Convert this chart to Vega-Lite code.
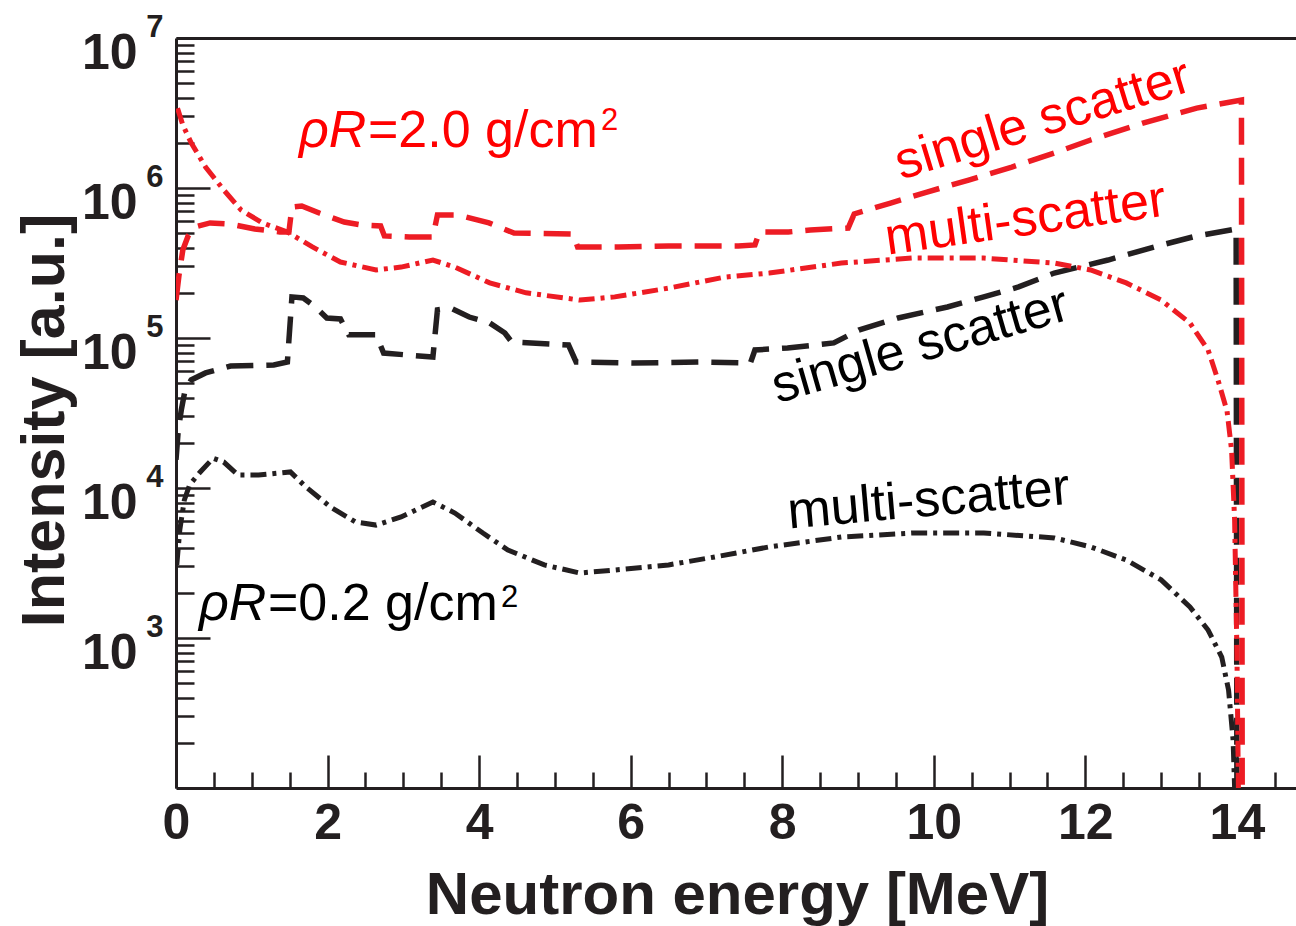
{
  "$schema": "https://vega.github.io/schema/vega-lite/v6.json",
  "width": 1120,
  "height": 750,
  "autosize": {"type": "none"},
  "padding": {"left": 176, "top": 38, "right": 0, "bottom": 138},
  "background": "white",
  "config": {"view": {"stroke": null}, "font": "Liberation Sans"},
  "datasets": {
    "spectra": [
      {"E":0.01,"I":3070,"rhoR":"0.2","type":"multi"},{"E":0.05,"I":5250,"rhoR":"0.2","type":"multi"},{"E":0.11,"I":8320,"rhoR":"0.2","type":"multi"},{"E":0.18,"I":10500,"rhoR":"0.2","type":"multi"},{"E":0.32,"I":12800,"rhoR":"0.2","type":"multi"},{"E":0.49,"I":15800,"rhoR":"0.2","type":"multi"},{"E":0.63,"I":14900,"rhoR":"0.2","type":"multi"},{"E":0.82,"I":12200,"rhoR":"0.2","type":"multi"},{"E":1.09,"I":12200,"rhoR":"0.2","type":"multi"},{"E":1.51,"I":12800,"rhoR":"0.2","type":"multi"},{"E":1.71,"I":10200,"rhoR":"0.2","type":"multi"},{"E":2.04,"I":7460,"rhoR":"0.2","type":"multi"},{"E":2.37,"I":5930,"rhoR":"0.2","type":"multi"},{"E":2.64,"I":5660,"rhoR":"0.2","type":"multi"},{"E":2.97,"I":6410,"rhoR":"0.2","type":"multi"},{"E":3.39,"I":8070,"rhoR":"0.2","type":"multi"},{"E":3.68,"I":6810,"rhoR":"0.2","type":"multi"},{"E":4.05,"I":5010,"rhoR":"0.2","type":"multi"},{"E":4.38,"I":3860,"rhoR":"0.2","type":"multi"},{"E":4.86,"I":3070,"rhoR":"0.2","type":"multi"},{"E":5.33,"I":2710,"rhoR":"0.2","type":"multi"},{"E":5.79,"I":2840,"rhoR":"0.2","type":"multi"},{"E":6.5,"I":3070,"rhoR":"0.2","type":"multi"},{"E":7.11,"I":3470,"rhoR":"0.2","type":"multi"},{"E":7.83,"I":4050,"rhoR":"0.2","type":"multi"},{"E":8.78,"I":4710,"rhoR":"0.2","type":"multi"},{"E":9.71,"I":5010,"rhoR":"0.2","type":"multi"},{"E":10.66,"I":5010,"rhoR":"0.2","type":"multi"},{"E":11.59,"I":4650,"rhoR":"0.2","type":"multi"},{"E":12.07,"I":4050,"rhoR":"0.2","type":"multi"},{"E":12.54,"I":3310,"rhoR":"0.2","type":"multi"},{"E":13.0,"I":2440,"rhoR":"0.2","type":"multi"},{"E":13.38,"I":1610,"rhoR":"0.2","type":"multi"},{"E":13.62,"I":1130,"rhoR":"0.2","type":"multi"},{"E":13.8,"I":746,"rhoR":"0.2","type":"multi"},{"E":13.89,"I":450,"rhoR":"0.2","type":"multi"},{"E":13.95,"I":209,"rhoR":"0.2","type":"multi"},{"E":13.97,"I":100,"rhoR":"0.2","type":"multi"},
      {"E":0.0,"I":15400,"rhoR":"0.2","type":"single"},{"E":0.03,"I":24400,"rhoR":"0.2","type":"single"},{"E":0.07,"I":33100,"rhoR":"0.2","type":"single"},{"E":0.12,"I":45000,"rhoR":"0.2","type":"single"},{"E":0.2,"I":52500,"rhoR":"0.2","type":"single"},{"E":0.39,"I":58500,"rhoR":"0.2","type":"single"},{"E":0.72,"I":65000,"rhoR":"0.2","type":"single"},{"E":1.29,"I":66100,"rhoR":"0.2","type":"single"},{"E":1.47,"I":69200,"rhoR":"0.2","type":"single"},{"E":1.53,"I":188000,"rhoR":"0.2","type":"single"},{"E":1.68,"I":185000,"rhoR":"0.2","type":"single"},{"E":1.84,"I":161000,"rhoR":"0.2","type":"single"},{"E":1.99,"I":136000,"rhoR":"0.2","type":"single"},{"E":2.17,"I":134000,"rhoR":"0.2","type":"single"},{"E":2.28,"I":105000,"rhoR":"0.2","type":"single"},{"E":2.64,"I":105000,"rhoR":"0.2","type":"single"},{"E":2.74,"I":79400,"rhoR":"0.2","type":"single"},{"E":3.39,"I":74600,"rhoR":"0.2","type":"single"},{"E":3.45,"I":154000,"rhoR":"0.2","type":"single"},{"E":3.63,"I":158000,"rhoR":"0.2","type":"single"},{"E":3.87,"I":138000,"rhoR":"0.2","type":"single"},{"E":4.14,"I":126000,"rhoR":"0.2","type":"single"},{"E":4.34,"I":108000,"rhoR":"0.2","type":"single"},{"E":4.43,"I":94000,"rhoR":"0.2","type":"single"},{"E":5.18,"I":89800,"rhoR":"0.2","type":"single"},{"E":5.28,"I":69200,"rhoR":"0.2","type":"single"},{"E":6.03,"I":68100,"rhoR":"0.2","type":"single"},{"E":6.97,"I":69200,"rhoR":"0.2","type":"single"},{"E":7.58,"I":68100,"rhoR":"0.2","type":"single"},{"E":7.64,"I":83200,"rhoR":"0.2","type":"single"},{"E":8.07,"I":85800,"rhoR":"0.2","type":"single"},{"E":8.68,"I":92700,"rhoR":"0.2","type":"single"},{"E":9.01,"I":113000,"rhoR":"0.2","type":"single"},{"E":9.53,"I":136000,"rhoR":"0.2","type":"single"},{"E":10.18,"I":161000,"rhoR":"0.2","type":"single"},{"E":10.66,"I":188000,"rhoR":"0.2","type":"single"},{"E":11.12,"I":219000,"rhoR":"0.2","type":"single"},{"E":11.59,"I":271000,"rhoR":"0.2","type":"single"},{"E":12.3,"I":331000,"rhoR":"0.2","type":"single"},{"E":12.95,"I":410000,"rhoR":"0.2","type":"single"},{"E":13.47,"I":479000,"rhoR":"0.2","type":"single"},{"E":13.99,"I":533000,"rhoR":"0.2","type":"single"},{"E":14.0,"I":100,"rhoR":"0.2","type":"single"},
      {"E":0.02,"I":3400000,"rhoR":"2.0","type":"multi"},{"E":0.09,"I":2630000,"rhoR":"2.0","type":"multi"},{"E":0.2,"I":2000000,"rhoR":"2.0","type":"multi"},{"E":0.39,"I":1380000,"rhoR":"2.0","type":"multi"},{"E":0.63,"I":970000,"rhoR":"2.0","type":"multi"},{"E":0.86,"I":713000,"rhoR":"2.0","type":"multi"},{"E":1.14,"I":585000,"rhoR":"2.0","type":"multi"},{"E":1.47,"I":509000,"rhoR":"2.0","type":"multi"},{"E":1.8,"I":405000,"rhoR":"2.0","type":"multi"},{"E":2.17,"I":321000,"rhoR":"2.0","type":"multi"},{"E":2.64,"I":284000,"rhoR":"2.0","type":"multi"},{"E":2.97,"I":297000,"rhoR":"2.0","type":"multi"},{"E":3.39,"I":331000,"rhoR":"2.0","type":"multi"},{"E":3.68,"I":297000,"rhoR":"2.0","type":"multi"},{"E":4.14,"I":233000,"rhoR":"2.0","type":"multi"},{"E":4.62,"I":200000,"rhoR":"2.0","type":"multi"},{"E":5.33,"I":179000,"rhoR":"2.0","type":"multi"},{"E":5.79,"I":188000,"rhoR":"2.0","type":"multi"},{"E":6.5,"I":215000,"rhoR":"2.0","type":"multi"},{"E":7.25,"I":255000,"rhoR":"2.0","type":"multi"},{"E":7.83,"I":271000,"rhoR":"2.0","type":"multi"},{"E":8.78,"I":316000,"rhoR":"2.0","type":"multi"},{"E":9.71,"I":341000,"rhoR":"2.0","type":"multi"},{"E":10.66,"I":341000,"rhoR":"2.0","type":"multi"},{"E":11.59,"I":316000,"rhoR":"2.0","type":"multi"},{"E":12.07,"I":284000,"rhoR":"2.0","type":"multi"},{"E":12.54,"I":233000,"rhoR":"2.0","type":"multi"},{"E":13.0,"I":179000,"rhoR":"2.0","type":"multi"},{"E":13.38,"I":126000,"rhoR":"2.0","type":"multi"},{"E":13.62,"I":83200,"rhoR":"2.0","type":"multi"},{"E":13.75,"I":52500,"rhoR":"2.0","type":"multi"},{"E":13.87,"I":32600,"rhoR":"2.0","type":"multi"},{"E":13.93,"I":17900,"rhoR":"2.0","type":"multi"},{"E":13.97,"I":6120,"rhoR":"2.0","type":"multi"},{"E":14.0,"I":832,"rhoR":"2.0","type":"multi"},{"E":14.02,"I":100,"rhoR":"2.0","type":"multi"},
      {"E":0.0,"I":179000,"rhoR":"2.0","type":"single"},{"E":0.04,"I":263000,"rhoR":"2.0","type":"single"},{"E":0.09,"I":386000,"rhoR":"2.0","type":"single"},{"E":0.16,"I":479000,"rhoR":"2.0","type":"single"},{"E":0.25,"I":550000,"rhoR":"2.0","type":"single"},{"E":0.45,"I":585000,"rhoR":"2.0","type":"single"},{"E":0.71,"I":575000,"rhoR":"2.0","type":"single"},{"E":1.04,"I":533000,"rhoR":"2.0","type":"single"},{"E":1.37,"I":509000,"rhoR":"2.0","type":"single"},{"E":1.49,"I":509000,"rhoR":"2.0","type":"single"},{"E":1.53,"I":746000,"rhoR":"2.0","type":"single"},{"E":1.66,"I":759000,"rhoR":"2.0","type":"single"},{"E":1.89,"I":681000,"rhoR":"2.0","type":"single"},{"E":2.22,"I":593000,"rhoR":"2.0","type":"single"},{"E":2.46,"I":566000,"rhoR":"2.0","type":"single"},{"E":2.7,"I":558000,"rhoR":"2.0","type":"single"},{"E":2.75,"I":479000,"rhoR":"2.0","type":"single"},{"E":3.08,"I":471000,"rhoR":"2.0","type":"single"},{"E":3.39,"I":471000,"rhoR":"2.0","type":"single"},{"E":3.45,"I":661000,"rhoR":"2.0","type":"single"},{"E":3.72,"I":661000,"rhoR":"2.0","type":"single"},{"E":4.13,"I":585000,"rhoR":"2.0","type":"single"},{"E":4.46,"I":501000,"rhoR":"2.0","type":"single"},{"E":5.24,"I":493000,"rhoR":"2.0","type":"single"},{"E":5.3,"I":405000,"rhoR":"2.0","type":"single"},{"E":5.84,"I":405000,"rhoR":"2.0","type":"single"},{"E":6.5,"I":410000,"rhoR":"2.0","type":"single"},{"E":7.42,"I":410000,"rhoR":"2.0","type":"single"},{"E":7.64,"I":417000,"rhoR":"2.0","type":"single"},{"E":7.7,"I":509000,"rhoR":"2.0","type":"single"},{"E":8.08,"I":509000,"rhoR":"2.0","type":"single"},{"E":8.37,"I":525000,"rhoR":"2.0","type":"single"},{"E":8.87,"I":541000,"rhoR":"2.0","type":"single"},{"E":8.95,"I":671000,"rhoR":"2.0","type":"single"},{"E":9.43,"I":794000,"rhoR":"2.0","type":"single"},{"E":9.91,"I":940000,"rhoR":"2.0","type":"single"},{"E":10.46,"I":1130000,"rhoR":"2.0","type":"single"},{"E":11.03,"I":1380000,"rhoR":"2.0","type":"single"},{"E":11.59,"I":1710000,"rhoR":"2.0","type":"single"},{"E":12.07,"I":2090000,"rhoR":"2.0","type":"single"},{"E":12.76,"I":2710000,"rhoR":"2.0","type":"single"},{"E":13.47,"I":3410000,"rhoR":"2.0","type":"single"},{"E":14.06,"I":3860000,"rhoR":"2.0","type":"single"},{"E":14.07,"I":100,"rhoR":"2.0","type":"single"}
    ],
    "labels": [
      {"E":1.623,"I":1876000,"text":"ρR","rhoR":"2.0","kind":"rho"},
      {"E":2.533,"I":1876000,"text":"=2.0 g/cm","rhoR":"2.0","kind":"val"},
      {"E":5.607,"I":2440000,"text":"2","rhoR":"2.0","kind":"sup"},
      {"E":0.303,"I":1318,"text":"ρR","rhoR":"0.2","kind":"rho"},
      {"E":1.214,"I":1318,"text":"=0.2 g/cm","rhoR":"0.2","kind":"val"},
      {"E":4.288,"I":1610,"text":"2","rhoR":"0.2","kind":"sup"},
      {"E":11.5,"I":2260000,"text":"single scatter","rhoR":"2.0","kind":"s2"},
      {"E":11.24,"I":486000,"text":"multi-scatter","rhoR":"2.0","kind":"m2"},
      {"E":9.88,"I":70300,"text":"single scatter","rhoR":"0.2","kind":"s02"},
      {"E":9.95,"I":6500,"text":"multi-scatter","rhoR":"0.2","kind":"m02"}
    ]
  },
  "resolve": {"axis": {"x": "independent", "y": "independent"}},
  "layer": [
    {
      "data": {"name": "spectra"},
      "transform": [{"filter": "datum.rhoR === '0.2'"}],
      "mark": {"type": "line", "clip": true},
      "encoding": {
        "x": {"field": "E", "type": "quantitative", "scale": {"domain": [0, 14.78], "nice": false, "zero": false},
          "axis": {"orient": "bottom", "grid": false,
            "values": [0,0.5,1,1.5,2,2.5,3,3.5,4,4.5,5,5.5,6,6.5,7,7.5,8,8.5,9,9.5,10,10.5,11,11.5,12,12.5,13,13.5,14,14.5],
            "labelExpr": "datum.value % 2 === 0 ? format(datum.value, 'd') : ''",
            "tickSize": {"condition": {"test": "datum.value % 2 === 0", "value": -33}, "value": -16},
            "tickWidth": 2.5, "tickColor": "#231f20", "domainColor": "#231f20", "domainWidth": 3,
            "labelPadding": 43, "labelFontSize": 50, "labelFontWeight": "bold", "labelColor": "#231f20",
            "labelFlush": false, "labelOverlap": false, "labelBaseline": "top", "labelFont": "Liberation Sans",
            "title": "Neutron energy [MeV]", "titleFontSize": 60, "titleFontWeight": "bold", "titleColor": "#231f20",
            "titleFont": "Liberation Sans", "titleBaseline": "alphabetic", "titleY": 125, "titleX": 561, "titleAlign": "center"}},
        "y": {"field": "I", "type": "quantitative", "scale": {"type": "log", "domain": [100, 10000000], "nice": false},
          "axis": {"orient": "left", "grid": false,
            "values": [200,300,400,500,600,700,800,900,1000,2000,3000,4000,5000,6000,7000,8000,9000,10000,20000,30000,40000,50000,60000,70000,80000,90000,100000,200000,300000,400000,500000,600000,700000,800000,900000,1000000,2000000,3000000,4000000,5000000,6000000,7000000,8000000,9000000,10000000],
            "labelExpr": "abs(log(datum.value)/LN10 - round(log(datum.value)/LN10)) < 0.001 ? '10' : ''",
            "tickSize": {"condition": {"test": "abs(log(datum.value)/LN10 - round(log(datum.value)/LN10)) < 0.001", "value": -34}, "value": -18},
            "tickWidth": 2.5, "tickColor": "#231f20", "domainColor": "#231f20", "domainWidth": 3,
            "labelPadding": 73, "labelOffset": 15, "labelAlign": "right", "labelBaseline": "middle",
            "labelFontSize": 50, "labelFontWeight": "bold", "labelColor": "#231f20", "labelFont": "Liberation Sans",
            "labelFlush": false, "labelOverlap": false,
            "title": "Intensity [a.u.]", "titleFontSize": 61, "titleFontWeight": "bold", "titleColor": "#231f20",
            "titleFont": "Liberation Sans", "titleAngle": -90, "titleBaseline": "alphabetic", "titleAlign": "center",
            "titleX": -113, "titleY": 382}},
        "color": {"field": "rhoR", "type": "nominal", "scale": {"domain": ["0.2", "2.0"], "range": ["#231f20", "#ed1c24"]}, "legend": null},
        "strokeDash": {"field": "type", "type": "nominal", "scale": {"domain": ["single", "multi"], "range": [[27, 13], [16, 6, 4, 6]]}, "legend": null},
        "strokeWidth": {"field": "type", "type": "ordinal", "scale": {"domain": ["single", "multi"], "range": [5.5, 5]}, "legend": null}
      }
    },
    {
      "data": {"name": "spectra"},
      "transform": [{"filter": "datum.rhoR === '2.0'"}],
      "mark": {"type": "line", "clip": true},
      "encoding": {
        "x": {"field": "E", "type": "quantitative", "axis": null},
        "y": {"field": "I", "type": "quantitative", "axis": null},
        "color": {"field": "rhoR", "type": "nominal", "legend": null},
        "strokeDash": {"field": "type", "type": "nominal", "legend": null},
        "strokeWidth": {"field": "type", "type": "ordinal", "legend": null}
      }
    },
    {
      "data": {"name": "labels"},
      "transform": [{"filter": "datum.kind === 'rho'"}],
      "mark": {"type": "text", "font": "Liberation Sans", "fontStyle": "italic", "fontSize": 52, "align": "left", "baseline": "alphabetic"},
      "encoding": {
        "x": {"field": "E", "type": "quantitative",
          "axis": {"orient": "top", "ticks": false, "labels": false, "domain": true, "domainWidth": 3, "domainColor": "#231f20", "title": null, "grid": false}},
        "y": {"field": "I", "type": "quantitative",
          "axis": {"orient": "left", "grid": false, "values": [1000, 10000, 100000, 1000000, 10000000],
            "labelExpr": "format(round(log(datum.value)/LN10), 'd')",
            "ticks": false, "tickSize": 0, "domain": false,
            "labelPadding": 13, "labelOffset": -11, "labelAlign": "right", "labelBaseline": "middle",
            "labelFontSize": 31, "labelFontWeight": "bold", "labelColor": "#231f20", "labelFont": "Liberation Sans",
            "labelFlush": false, "labelOverlap": false, "title": null}},
        "text": {"field": "text"},
        "fill": {"field": "rhoR", "type": "nominal", "scale": {"domain": ["0.2", "2.0"], "range": ["#000000", "#ff0000"]}, "legend": null}
      }
    },
    {
      "data": {"name": "labels"},
      "transform": [{"filter": "datum.kind === 'val'"}],
      "mark": {"type": "text", "font": "Liberation Sans", "fontSize": 52, "align": "left", "baseline": "alphabetic"},
      "encoding": {
        "x": {"field": "E", "type": "quantitative", "axis": null},
        "y": {"field": "I", "type": "quantitative", "axis": null},
        "text": {"field": "text"},
        "fill": {"field": "rhoR", "type": "nominal", "legend": null}
      }
    },
    {
      "data": {"name": "labels"},
      "transform": [{"filter": "datum.kind === 'sup'"}],
      "mark": {"type": "text", "font": "Liberation Sans", "fontSize": 31, "align": "left", "baseline": "alphabetic"},
      "encoding": {
        "x": {"field": "E", "type": "quantitative", "axis": null},
        "y": {"field": "I", "type": "quantitative", "axis": null},
        "text": {"field": "text"},
        "fill": {"field": "rhoR", "type": "nominal", "legend": null}
      }
    },
    {
      "data": {"name": "labels"},
      "transform": [{"filter": "datum.kind === 's2'"}],
      "mark": {"type": "text", "font": "Liberation Sans", "fontSize": 52, "align": "center", "baseline": "alphabetic", "angle": -17},
      "encoding": {
        "x": {"field": "E", "type": "quantitative", "axis": null},
        "y": {"field": "I", "type": "quantitative", "axis": null},
        "text": {"field": "text"},
        "fill": {"field": "rhoR", "type": "nominal", "legend": null}
      }
    },
    {
      "data": {"name": "labels"},
      "transform": [{"filter": "datum.kind === 'm2'"}],
      "mark": {"type": "text", "font": "Liberation Sans", "fontSize": 52, "align": "center", "baseline": "alphabetic", "angle": -8},
      "encoding": {
        "x": {"field": "E", "type": "quantitative", "axis": null},
        "y": {"field": "I", "type": "quantitative", "axis": null},
        "text": {"field": "text"},
        "fill": {"field": "rhoR", "type": "nominal", "legend": null}
      }
    },
    {
      "data": {"name": "labels"},
      "transform": [{"filter": "datum.kind === 's02'"}],
      "mark": {"type": "text", "font": "Liberation Sans", "fontSize": 52, "align": "center", "baseline": "alphabetic", "angle": -16},
      "encoding": {
        "x": {"field": "E", "type": "quantitative", "axis": null},
        "y": {"field": "I", "type": "quantitative", "axis": null},
        "text": {"field": "text"},
        "fill": {"field": "rhoR", "type": "nominal", "legend": null}
      }
    },
    {
      "data": {"name": "labels"},
      "transform": [{"filter": "datum.kind === 'm02'"}],
      "mark": {"type": "text", "font": "Liberation Sans", "fontSize": 52, "align": "center", "baseline": "alphabetic", "angle": -5},
      "encoding": {
        "x": {"field": "E", "type": "quantitative", "axis": null},
        "y": {"field": "I", "type": "quantitative", "axis": null},
        "text": {"field": "text"},
        "fill": {"field": "rhoR", "type": "nominal", "legend": null}
      }
    }
  ]
}
